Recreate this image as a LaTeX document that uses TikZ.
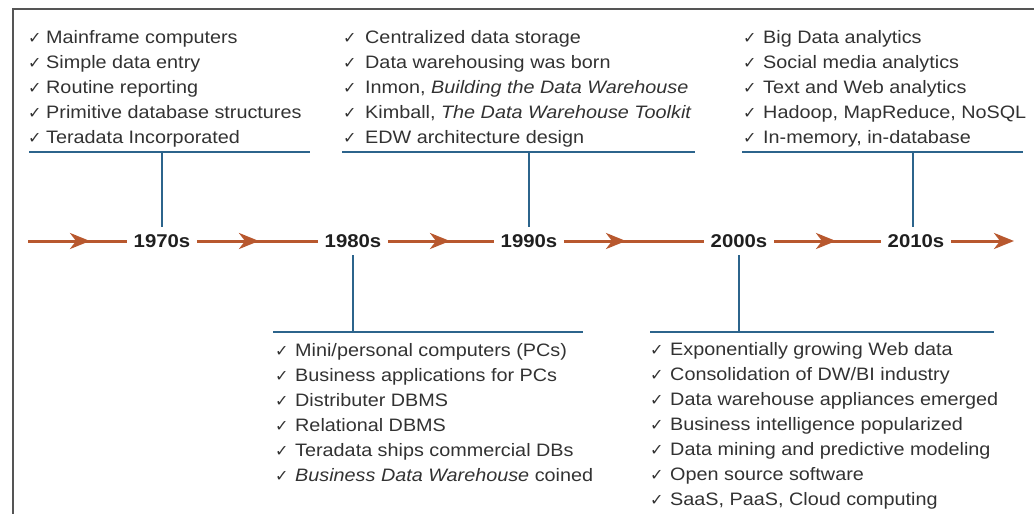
\documentclass[tikz,border=0pt]{standalone}
\usepackage{fontspec}
\setmainfont[FakeStretch=1.1]{Liberation Sans}
\newfontfamily\checkfont{DejaVu Sans}
\usetikzlibrary{arrows.meta,decorations.markings}
\definecolor{arr}{RGB}{184,88,46}
\definecolor{connc}{RGB}{44,100,140}
\definecolor{txt}{RGB}{50,50,50}
\definecolor{framec}{RGB}{85,85,85}
\begin{document}
\begin{tikzpicture}[x=1pt,y=-1pt,
  item/.style={anchor=base west, inner sep=0pt, font=\fontsize{18}{20}\selectfont, text=txt},
  tick/.style={anchor=base west, inner sep=0pt, font=\checkfont\fontsize{16}{18}\selectfont, text=txt},
  year/.style={font=\fontsize{18.5}{20}\selectfont\bfseries, text=black!88, inner xsep=6.5pt, inner ysep=7pt},
  tline/.style={draw=arr, line width=3pt},
  midarrow/.style={postaction={decorate}, decoration={markings,
      mark=at position 62pt with {\arrow{Stealth[length=20pt,width=16pt,inset=6pt,color=arr]}}}},
  connline/.style={draw=connc, line width=1.4pt}]
\useasboundingbox (0,0) rectangle (1034,514);
% frame
\draw[framec, line width=2pt] (12.5,514) -- (12.5,9) -- (1034,9);

% year nodes
\node[year] (y1) at (162,241) {1970s};
\node[year] (y2) at (353,241) {1980s};
\node[year] (y3) at (529,241) {1990s};
\node[year] (y4) at (739,241) {2000s};
\node[year] (y5) at (916,241) {2010s};
\coordinate (s0) at (28,241);
\coordinate (s6) at (1014,241);

% timeline
\draw[tline, midarrow] (s0) -- (y1.west);
\draw[tline, midarrow] (y1.east) -- (y2.west);
\draw[tline, midarrow] (y2.east) -- (y3.west);
\draw[tline, midarrow] (y3.east) -- (y4.west);
\draw[tline, midarrow] (y4.east) -- (y5.west);
\draw[tline, -{Stealth[length=20pt,width=16pt,inset=6pt]}] (y5.east) -- (s6);

% connectors
\coordinate (b1) at (162,152);  \coordinate (b1l) at (29,152);  \coordinate (b1r) at (310,152);
\coordinate (b3) at (529,152);  \coordinate (b3l) at (342,152); \coordinate (b3r) at (695,152);
\coordinate (b5) at (913,152);  \coordinate (b5l) at (742,152); \coordinate (b5r) at (1023,152);
\coordinate (b2) at (353,332); \coordinate (b2l) at (273,332); \coordinate (b2r) at (583,332);
\coordinate (b4) at (739,332);  \coordinate (b4l) at (650,332); \coordinate (b4r) at (994,332);
\draw[connline] (b1l) -- (b1r);
\draw[connline] (b3l) -- (b3r);
\draw[connline] (b5l) -- (b5r);
\draw[connline] (b2l) -- (b2r);
\draw[connline] (b4l) -- (b4r);
\draw[connline] (b1) -- (y1.north -| b1);
\draw[connline] (b3) -- (y3.north -| b3);
\draw[connline] (b5) -- (y5.north -| b5);
\draw[connline] (b2) -- (y2.south -| b2);
\draw[connline] (b4) -- (y4.south -| b4);

% 1970s list
\foreach \t [count=\i] in {Mainframe computers, Simple data entry, Routine reporting,
    Primitive database structures, Teradata Incorporated}{
  \node[tick] (ta\i) at (28,18+25*\i) {✓};
  \node[item] (a\i) at (46,18+25*\i) {\t};
}
% 1990s list
\foreach \t [count=\i] in {Centralized data storage, Data warehousing was born,
    {Inmon, \textit{Building the Data Warehouse}},
    {Kimball, \textit{The Data Warehouse Toolkit}}, EDW architecture design}{
  \node[tick] (tc\i) at (343,18+25*\i) {✓};
  \node[item] (c\i) at (365,18+25*\i) {\t};
}
% 2010s list
\foreach \t [count=\i] in {Big Data analytics, Social media analytics, Text and Web analytics,
    {Hadoop, MapReduce, NoSQL}, {In-memory, in-database}}{
  \node[tick] (te\i) at (743,18+25*\i) {✓};
  \node[item] (e\i) at (763,18+25*\i) {\t};
}
% 1980s list
\foreach \t [count=\i] in {Mini/personal computers (PCs), Business applications for PCs,
    Distributer DBMS, Relational DBMS, Teradata ships commercial DBs,
    {\textit{Business Data Warehouse} coined}}{
  \node[tick] (tb\i) at (275,331+25*\i) {✓};
  \node[item] (b\i) at (295,331+25*\i) {\t};
}
% 2000s list
\foreach \t [count=\i] in {Exponentially growing Web data, Consolidation of DW/BI industry,
    Data warehouse appliances emerged, Business intelligence popularized,
    Data mining and predictive modeling, Open source software,
    {SaaS, PaaS, Cloud computing}}{
  \node[tick] (td\i) at (650,330+25*\i) {✓};
  \node[item] (d\i) at (670,330+25*\i) {\t};
}
\end{tikzpicture}
\end{document}
